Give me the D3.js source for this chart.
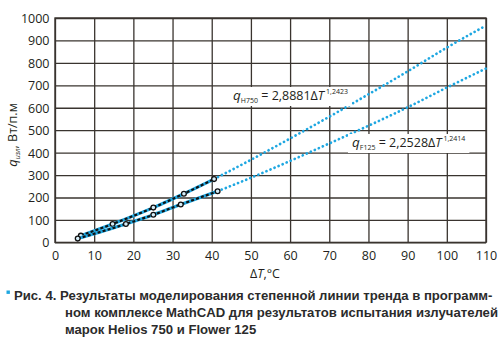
<!DOCTYPE html>
<html><head><meta charset="utf-8">
<script src="https://cdn.jsdelivr.net/npm/d3@7"></script>
<style>body{margin:0;background:#fff}svg{display:block}</style>
</head><body>
<svg id="c" width="500" height="338"></svg>
<script>
// ---- data ----
const xTicks = [0,10,20,30,40,50,60,70,80,90,100,110];
const yTicks = [0,100,200,300,400,500,600,700,800,900,1000];
// measured points (Helios 750)
const heliosT = [6.6, 14.7, 25.1, 32.9, 40.6];
const heliosQ = [30, 82, 155, 217, 282];
// measured points (Flower 125)
const flowerT = [5.8, 18.1, 25.1, 32.1, 41.5];
const flowerQ = [17, 82, 123, 169, 228];
// trend extension
const heliosTrendT = [40.6, 50, 60, 70, 80, 90, 100, 110];
const heliosTrendQ = [282, 368, 463, 560, 660, 762, 868, 966];
const flowerTrendT = [41.5, 50, 60, 70, 80, 90, 100, 110];
const flowerTrendQ = [228, 288, 363, 441, 520, 602, 690, 775];
const captionLines = [
  "Рис. 4. Результаты моделирования степенной линии тренда в программ-",
  "ном комплексе MathCAD для результатов испытания излучателей",
  "марок Helios 750 и Flower 125"
];

const svg = d3.select("#c");
const L = 55, R = 486, T = 18, B = 242.4;
const x = d3.scaleLinear().domain([0,110]).range([L,R]);
const y = d3.scaleLinear().domain([0,1000]).range([B,T]);
const txt = "#231f20", gridC = "#3a342f", blue = "#1ea7e1";
const font = "'Open Sans', sans-serif";

// grid
const gx = svg.append("g").attr("transform",`translate(0,${B})`)
  .call(d3.axisBottom(x).tickValues(xTicks).tickSize(-(B-T)).tickFormat(d=>d).tickPadding(0));
const gy = svg.append("g").attr("transform",`translate(${L},0)`)
  .call(d3.axisLeft(y).tickValues(yTicks).tickSize(-(R-L)).tickFormat(d=>d).tickPadding(0));
[gx,gy].forEach(g=>{
  g.select(".domain").remove();
  g.selectAll(".tick line").attr("stroke",gridC).attr("stroke-width",1.3);
  g.selectAll(".tick text").attr("fill",txt).style("font-family",font).style("font-size","12.5px");
});
gx.selectAll(".tick text").attr("y",18).attr("dy",0);
gy.selectAll(".tick text").attr("x",-5.5).attr("dy","0.35em");
svg.append("rect").attr("x",L).attr("y",T).attr("width",R-L).attr("height",B-T)
  .attr("fill","none").attr("stroke",gridC).attr("stroke-width",1.4);

// equation labels with white boxes
function eqLabel(xp, yb, sub, coef, expo){
  const g = svg.append("g");
  const bg = g.append("rect").attr("fill","#fff");
  const t = g.append("text").attr("x",xp).attr("y",yb).attr("fill",txt)
    .style("font-family",font).style("font-size","12.5px");
  t.append("tspan").style("font-style","italic").style("font-size","13.5px").text("q");
  t.append("tspan").attr("dy",2.5).style("font-size","7px").text(sub);
  t.append("tspan").attr("dy",-2.5).text(" = "+coef+"\u0394");
  t.append("tspan").style("font-style","italic").text("T");
  t.append("tspan").attr("dy",-6).attr("dx",2).style("font-size","7px").text(expo);
  const bb = t.node().getBBox();
  bg.attr("x",bb.x-4).attr("y",yb-13).attr("width",bb.width+8).attr("height",19);
}

// trend extensions (blue dotted)
const line = d3.line().x(d=>x(d[0])).y(d=>y(d[1])).curve(d3.curveMonotoneX);
function dotted(ts, qs){
  svg.append("path").datum(ts.map((t,i)=>[t,qs[i]])).attr("d",line)
    .attr("fill","none").attr("stroke",blue).attr("stroke-width",2.7)
    .attr("stroke-linecap","round").attr("stroke-dasharray","0.1,4.3");
}
dotted(heliosTrendT, heliosTrendQ);
dotted(flowerTrendT, flowerTrendQ);

eqLabel(233, 100, "H750", "2,8881", "1,2423");
eqLabel(352, 147, "F125", "2,2528", "1,2414");

// fitted segments and points
function series(ts, qs){
  const data = ts.map((t,i)=>[t,qs[i]]);
  svg.append("path").datum(data).attr("d",line).attr("fill","none")
    .attr("stroke",blue).attr("stroke-width",3.2);
  svg.append("path").datum(data).attr("d",line).attr("fill","none")
    .attr("stroke","#111").attr("stroke-width",2.2).attr("stroke-dasharray","3,2.2");
  svg.append("g").selectAll("circle").data(data).join("circle")
    .attr("cx",d=>x(d[0])).attr("cy",d=>y(d[1])).attr("r",2.4)
    .attr("fill","#d6eef9").attr("stroke","#111").attr("stroke-width",1.3);
}
series(heliosT, heliosQ);
series(flowerT, flowerQ);

// axis titles
const xl = svg.append("text").attr("x",265).attr("y",278).attr("text-anchor","middle")
  .attr("fill",txt).style("font-family",font).style("font-size","12.5px");
xl.append("tspan").text("\u0394");
xl.append("tspan").style("font-style","italic").text("T");
xl.append("tspan").text(",\u00b0C");

const yl = svg.append("text").attr("transform","translate(17,135) rotate(-90)")
  .attr("text-anchor","middle").attr("fill",txt).style("font-family",font).style("font-size","12.5px");
yl.append("tspan").style("font-style","italic").style("font-size","13px").text("q");
yl.append("tspan").attr("dy",2.5).style("font-style","italic").style("font-size","7px").text("изл");
yl.append("tspan").attr("dy",-2.5).text(", Вт/п.м");

// caption
svg.append("rect").attr("x",6.5).attr("y",290.5).attr("width",3.4).attr("height",3.4).attr("fill",blue);
const capX = [14, 65, 65], capY = [299.5, 317, 334], capW = [478.7, 428, null];
let capSize = 12.5;
captionLines.forEach((s,i)=>{
  const t = svg.append("text").attr("x",capX[i]).attr("y",capY[i]).attr("fill","#2b2b2b")
    .style("font-family","'Liberation Sans', Arial, sans-serif").style("font-weight","bold")
    .style("font-size",capSize+"px").text(s);
  if(i===0){
    const w = t.node().getComputedTextLength();
    capSize = 12.5*capW[0]/w;
    t.style("font-size",capSize+"px");
  }
});
</script>
</body></html>
